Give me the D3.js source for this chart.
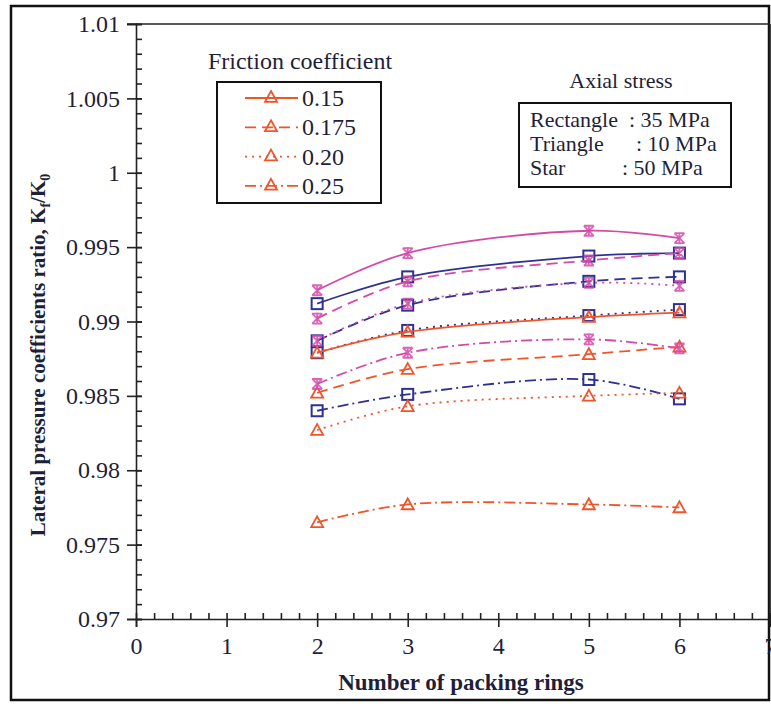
<!DOCTYPE html>
<html>
<head>
<meta charset="utf-8">
<script src="https://cdn.jsdelivr.net/npm/d3@7"></script>
<style>
html,body{margin:0;padding:0;background:#fff;}
svg text{font-family:"Liberation Serif","Times New Roman",serif;fill:#1f1f3a;}
</style>
</head>
<body>
<svg id="chart" width="771" height="704"></svg>
<script>
// ---------- data ----------
const xValues = [2, 3, 5, 6];
const frictionLabels = ["0.15", "0.175", "0.20", "0.25"];
const stressGroups = ["Triangle", "Rectangle", "Star"];
// Triangle : 10 MPa
const tri015  = [0.9879, 0.9893, 0.9903, 0.9906];
const tri0175 = [0.9852, 0.9868, 0.9878, 0.9883];
const tri020  = [0.9827, 0.9843, 0.9850, 0.9852];
const tri025  = [0.9765, 0.9777, 0.9777, 0.9775];
// Rectangle : 35 MPa
const sq015   = [0.9912, 0.9930, 0.9944, 0.9946];
const sq0175  = [0.9887, 0.9911, 0.9927, 0.9930];
const sq020   = [0.9879, 0.9894, 0.9904, 0.9908];
const sq025   = [0.9840, 0.9851, 0.9861, 0.9848];
// Star : 50 MPa
const st015   = [0.9921, 0.9946, 0.9961, 0.9956];
const st0175  = [0.9902, 0.9927, 0.9941, 0.9946];
const st020   = [0.9887, 0.9912, 0.9926, 0.9924];
const st025   = [0.9858, 0.9879, 0.9888, 0.9882];

const xTicks = [0, 1, 2, 3, 4, 5, 6, 7];
const xTickLabels = ["0", "1", "2", "3", "4", "5", "6", "7"];
const yTicks = [0.97, 0.975, 0.98, 0.985, 0.99, 0.995, 1.0, 1.005, 1.01];
const yTickLabels = ["0.97", "0.975", "0.98", "0.985", "0.99", "0.995", "1", "1.005", "1.01"];

// ---------- setup ----------
const svg = d3.select("#chart");
const X0 = 136, X1 = 770, Y0 = 619, Y1 = 24;
const x = d3.scaleLinear().domain([0, 7]).range([X0, X1]);
const y = d3.scaleLinear().domain([0.97, 1.01]).range([Y0, Y1]);

const colors = {Triangle: "#f0552a", Rectangle: "#2e3192", Star: "#d44aa8"};
const dashes = ["none", "11,6", "2,5", "11,4,2,4"];

// outer frame
svg.append("rect").attr("x", 11).attr("y", 6).attr("width", 758).attr("height", 694)
  .attr("fill", "none").attr("stroke", "#111").attr("stroke-width", 2.5);

// plot border (top / right)
svg.append("line").attr("x1", X0 - 9).attr("x2", X1).attr("y1", Y1).attr("y2", Y1)
  .attr("stroke", "#222").attr("stroke-width", 1.6);
svg.append("line").attr("x1", X1).attr("x2", X1).attr("y1", Y1).attr("y2", Y0)
  .attr("stroke", "#222").attr("stroke-width", 1.6);

// y axis
const yMinor = d3.range(0, 41).map(i => 0.97 + i * 0.001);
const yAx = svg.append("g").attr("transform", `translate(${X0},0)`)
  .call(d3.axisLeft(y).tickValues(yTicks).tickSize(9).tickPadding(7)
        .tickFormat((d, i) => yTickLabels[i]));
svg.append("g").attr("transform", `translate(${X0},0)`)
  .call(d3.axisLeft(y).tickValues(yMinor).tickSize(-6).tickFormat(""))
  .call(g => g.select(".domain").remove());
svg.append("g").attr("transform", `translate(${X0},0)`)
  .call(d3.axisLeft(y).tickValues(yTicks).tickSize(-6).tickFormat(""))
  .call(g => g.select(".domain").remove());

// x axis
const xMinor = d3.range(0, 36).map(i => i * 0.2);
svg.append("g").attr("transform", `translate(0,${Y0})`)
  .call(d3.axisBottom(x).tickValues(xTicks).tickSize(8).tickPadding(10)
        .tickFormat((d, i) => xTickLabels[i]));
svg.append("g").attr("transform", `translate(0,${Y0})`)
  .call(d3.axisBottom(x).tickValues(xMinor).tickSize(-6).tickFormat(""))
  .call(g => g.select(".domain").remove());

svg.selectAll(".tick line, .domain").attr("stroke", "#222").attr("stroke-width", 1.6);
svg.selectAll(".tick text").attr("font-size", 24).attr("fill", "#2a2550")
  .attr("font-family", "Liberation Serif, serif");

// axis titles
svg.append("text").attr("x", 461).attr("y", 690).attr("text-anchor", "middle")
  .attr("font-size", 23).attr("font-weight", "bold").text("Number of packing rings");

const yt = svg.append("text").attr("transform", "translate(45,355) rotate(-90)")
  .attr("text-anchor", "middle").attr("font-size", 21).attr("font-weight", "bold");
yt.append("tspan").text("Lateral pressure coefficients ratio, K");
yt.append("tspan").attr("font-size", 14).attr("dy", 5).text("f");
yt.append("tspan").attr("dy", -5).text("/K");
yt.append("tspan").attr("font-size", 14).attr("dy", 5).text("0");

// ---------- series ----------
const series = [
  {g: "Rectangle", f: 0, v: sq015}, {g: "Rectangle", f: 1, v: sq0175},
  {g: "Rectangle", f: 2, v: sq020}, {g: "Rectangle", f: 3, v: sq025},
  {g: "Triangle", f: 0, v: tri015}, {g: "Triangle", f: 1, v: tri0175},
  {g: "Triangle", f: 2, v: tri020}, {g: "Triangle", f: 3, v: tri025},
  {g: "Star", f: 0, v: st015}, {g: "Star", f: 1, v: st0175},
  {g: "Star", f: 2, v: st020}, {g: "Star", f: 3, v: st025}
];

const line = d3.line().x(d => x(d[0])).y(d => y(d[1])).curve(d3.curveCatmullRom.alpha(0.5));

function marker(sel, type, cx, cy, col) {
  if (type === "Rectangle") {
    sel.append("rect").attr("x", cx - 5.5).attr("y", cy - 5.5).attr("width", 11).attr("height", 11)
      .attr("fill", "none").attr("stroke", col).attr("stroke-width", 2);
  } else if (type === "Triangle") {
    const s = 6;
    sel.append("path").attr("d", `M${cx},${cy - s}L${cx + s},${cy + s * 0.8}L${cx - s},${cy + s * 0.8}Z`)
      .attr("fill", "none").attr("stroke", col).attr("stroke-width", 1.8);
  } else {
    const s = 5;
    sel.append("path").attr("d",
      `M${cx - s},${cy - s}L${cx + s},${cy + s}M${cx - s},${cy + s}L${cx + s},${cy - s}M${cx},${cy - s - 1}L${cx},${cy + s + 1}M${cx - s},${cy - s}L${cx + s},${cy - s}M${cx - s},${cy + s}L${cx + s},${cy + s}`)
      .attr("fill", "none").attr("stroke", col).attr("stroke-width", 1.8).attr("opacity", 0.85);
  }
}

const plot = svg.append("g");
series.forEach(s => {
  const col = colors[s.g];
  const pts = xValues.map((xv, i) => [xv, s.v[i]]);
  plot.append("path").attr("d", line(pts)).attr("fill", "none").attr("stroke", col)
    .attr("stroke-width", 1.8).attr("stroke-dasharray", dashes[s.f]);
  pts.forEach(p => marker(plot, s.g, x(p[0]), y(p[1]), col));
});

// ---------- legend: friction coefficient ----------
svg.append("text").attr("x", 300).attr("y", 69).attr("text-anchor", "middle")
  .attr("font-size", 24).text("Friction coefficient");
svg.append("rect").attr("x", 217).attr("y", 82).attr("width", 164).attr("height", 121)
  .attr("fill", "#fff").attr("stroke", "#111").attr("stroke-width", 2);
frictionLabels.forEach((lab, i) => {
  const ly = 98 + i * 29.3;
  svg.append("line").attr("x1", 245).attr("x2", 298).attr("y1", ly).attr("y2", ly)
    .attr("stroke", colors.Triangle).attr("stroke-width", 1.8).attr("stroke-dasharray", dashes[i]);
  marker(svg, "Triangle", 271, ly - 1, colors.Triangle);
  svg.append("text").attr("x", 302).attr("y", ly + 8).attr("font-size", 24).text(lab);
});

// ---------- legend: axial stress ----------
svg.append("text").attr("x", 621).attr("y", 88).attr("text-anchor", "middle")
  .attr("font-size", 22).text("Axial stress");
svg.append("rect").attr("x", 519).attr("y", 103).attr("width", 212).attr("height", 84)
  .attr("fill", "#fff").attr("stroke", "#111").attr("stroke-width", 2);
const stressNames = ["Rectangle", "Triangle", "Star"];
const stressVals = [": 35 MPa", ": 10 MPa", ": 50 MPa"];
const valX = [629, 636, 622];
stressNames.forEach((n, i) => {
  const by = 127 + i * 24;
  svg.append("text").attr("x", 530).attr("y", by).attr("font-size", 22).text(n);
  svg.append("text").attr("x", valX[i]).attr("y", by).attr("font-size", 22).text(stressVals[i]);
});
</script>
</body>
</html>
